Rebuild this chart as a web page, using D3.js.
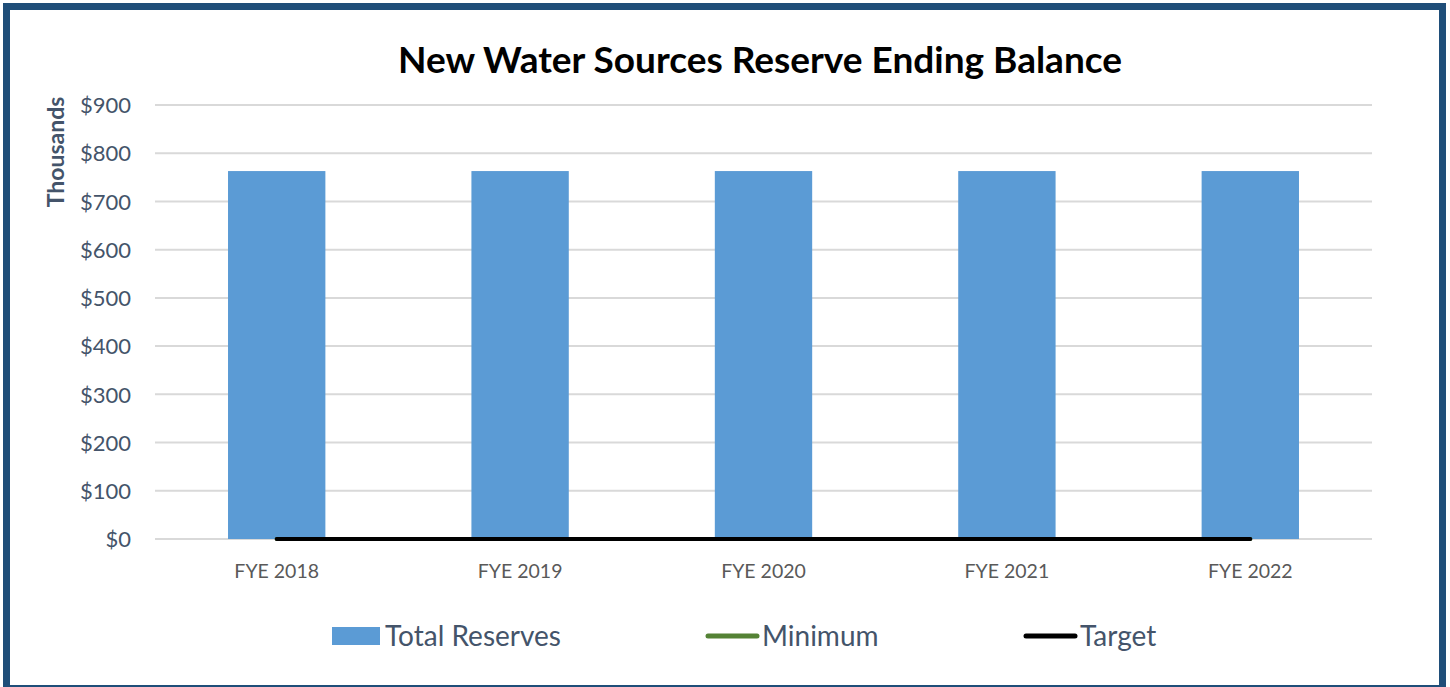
<!DOCTYPE html>
<html><head><meta charset="utf-8">
<script src="https://cdn.jsdelivr.net/npm/d3@7"></script>
<style>html,body{margin:0;padding:0;background:#fff;}svg{display:block;}</style>
</head><body>
<svg id="c" width="1450" height="687"></svg>
<script>
const categories = ["FYE 2018","FYE 2019","FYE 2020","FYE 2021","FYE 2022"];
const totalReserves = [763,763,763,763,763];
const minimum = [0,0,0,0,0];
const target = [0,0,0,0,0];
const yTicks = [0,100,200,300,400,500,600,700,800,900];
const seriesNames = ["Total Reserves","Minimum","Target"];

const svg = d3.select("#c");
const F = "Lato, 'Open Sans', sans-serif";
svg.append("rect").attr("x",6.5).attr("y",6.5).attr("width",1436).attr("height",682)
  .attr("fill","#fff").attr("stroke","#1F4E79").attr("stroke-width",7);

const x = d3.scaleBand().domain(categories).range([155,1372]).padding(0);
const y = d3.scaleLinear().domain([0,900]).range([539,105]);

// gridlines
svg.append("g").selectAll("line").data(yTicks).join("line")
  .attr("x1",155).attr("x2",1372).attr("y1",d=>y(d)).attr("y2",d=>y(d))
  .attr("stroke","#D9D9D9").attr("stroke-width",2);

// y axis labels
const ya = svg.append("g").attr("transform","translate(131,0)")
  .call(d3.axisLeft(y).tickValues(yTicks).tickFormat(d=>"$"+d).tickSize(0).tickPadding(0));
ya.select(".domain").remove();
ya.selectAll("text").attr("font-family",F).attr("font-size",22).attr("fill","#44546A").attr("dy","0.35em");

// x axis labels
const xa = svg.append("g").attr("transform","translate(0,560)")
  .call(d3.axisBottom(x).tickSize(0).tickPadding(0));
xa.select(".domain").remove();
xa.selectAll("text").attr("font-family",F).attr("font-size",19.5).attr("fill","#595959").attr("dy","0.9em");

// bars
const bw = x.bandwidth()*0.4;
svg.append("g").selectAll("rect").data(categories).join("rect")
  .attr("x",(d)=>x(d)+x.bandwidth()/2-bw/2).attr("width",bw)
  .attr("y",(d,i)=>y(totalReserves[i])).attr("height",(d,i)=>y(0)-y(totalReserves[i]))
  .attr("fill","#5B9BD5");

const line = d3.line().x((d,i)=>x(categories[i])+x.bandwidth()/2).y(d=>y(d));
svg.append("path").datum(minimum).attr("d",line).attr("fill","none")
  .attr("stroke","#548235").attr("stroke-width",4).attr("stroke-linecap","round");
svg.append("path").datum(target).attr("d",line).attr("fill","none")
  .attr("stroke","#000").attr("stroke-width",4).attr("stroke-linecap","round");

// title
svg.append("text").attr("x",760).attr("y",73).attr("text-anchor","middle")
  .attr("font-family",F).attr("font-weight","bold").attr("font-size",37).attr("fill","#000")
  .text("New Water Sources Reserve Ending Balance");

// y axis title
svg.append("text").attr("transform","translate(64,152) rotate(-90)").attr("text-anchor","middle")
  .attr("font-family",F).attr("font-weight","bold").attr("font-size",23).attr("fill","#44546A")
  .text("Thousands");

// legend
const lg = svg.append("g");
const lx = [332,706,1024];
lg.append("rect").attr("x",lx[0]).attr("y",627).attr("width",48).attr("height",18).attr("fill","#5B9BD5");
lg.append("line").attr("x1",lx[1]+2).attr("x2",lx[1]+51).attr("y1",636).attr("y2",636)
  .attr("stroke","#548235").attr("stroke-width",5).attr("stroke-linecap","round");
lg.append("line").attr("x1",lx[2]+2).attr("x2",lx[2]+51).attr("y1",636).attr("y2",636)
  .attr("stroke","#000").attr("stroke-width",5).attr("stroke-linecap","round");
lg.selectAll("text").data(seriesNames).join("text")
  .attr("x",(d,i)=>lx[i]+(i===0?53:56)).attr("y",646)
  .attr("font-family",F).attr("font-size",28).attr("fill","#44546A").text(d=>d);
</script>
</body></html>
